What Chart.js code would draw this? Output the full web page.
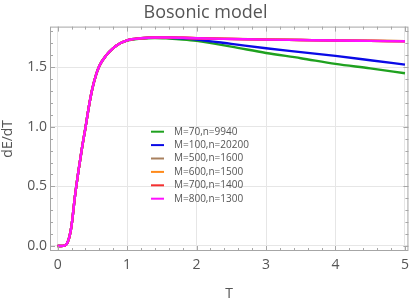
<!DOCTYPE html>
<html>
<head>
<meta charset="utf-8">
<script src="https://cdn.jsdelivr.net/npm/chart.js@4"></script>
<style>
  html, body { margin: 0; padding: 0; background: #fff; }
  #wrap { width: 415px; height: 302px; }
</style>
</head>
<body>
<div id="wrap"><canvas id="bosonChart"></canvas></div>
<script>
// teplota T
var temps = [0, 0.05, 0.1, 0.15, 0.2, 0.25, 0.3, 0.35, 0.4, 0.45, 0.5, 0.55, 0.6, 0.7, 0.8, 0.9, 1.0, 1.2, 1.4, 1.6, 1.8, 2.0, 2.5, 3.0, 3.5, 4.0, 4.5, 5.0];

// dE/dT pro jednotlive (M, n)
var m70 = [0, 0, 0.003, 0.04, 0.17, 0.42, 0.63, 0.82, 0.99, 1.17, 1.32, 1.43, 1.51, 1.60, 1.66, 1.70, 1.722, 1.740, 1.745, 1.740, 1.732, 1.720, 1.672, 1.619, 1.575, 1.527, 1.490, 1.449];
var m100 = [0, 0, 0.003, 0.04, 0.17, 0.42, 0.63, 0.82, 0.99, 1.17, 1.32, 1.43, 1.51, 1.60, 1.66, 1.70, 1.725, 1.742, 1.749, 1.747, 1.741, 1.731, 1.695, 1.658, 1.626, 1.594, 1.558, 1.521];
var m500 = [0, 0, 0.003, 0.04, 0.17, 0.42, 0.63, 0.82, 0.99, 1.17, 1.32, 1.43, 1.51, 1.60, 1.66, 1.70, 1.725, 1.742, 1.749, 1.749, 1.747, 1.743, 1.737, 1.732, 1.728, 1.724, 1.721, 1.718];
var m600 = [0, 0, 0.003, 0.04, 0.17, 0.42, 0.63, 0.82, 0.99, 1.17, 1.32, 1.43, 1.51, 1.60, 1.66, 1.70, 1.725, 1.742, 1.749, 1.749, 1.747, 1.743, 1.737, 1.732, 1.728, 1.724, 1.721, 1.718];
var m700 = [0, 0, 0.003, 0.04, 0.17, 0.42, 0.63, 0.82, 0.99, 1.17, 1.32, 1.43, 1.51, 1.60, 1.66, 1.70, 1.725, 1.742, 1.749, 1.749, 1.746, 1.742, 1.736, 1.731, 1.727, 1.723, 1.720, 1.717];
var m800 = [0, 0, 0.003, 0.04, 0.17, 0.42, 0.63, 0.82, 0.99, 1.17, 1.32, 1.43, 1.51, 1.60, 1.66, 1.70, 1.725, 1.742, 1.749, 1.749, 1.746, 1.742, 1.736, 1.731, 1.727, 1.723, 1.720, 1.717];

var seriesNames = ['M=70,n=9940', 'M=100,n=20200', 'M=500,n=1600', 'M=600,n=1500', 'M=700,n=1400', 'M=800,n=1300'];
var seriesValues = [m70, m100, m500, m600, m700, m800];
var seriesColors = ['#1fa11f', '#0a0ae6', '#a8805e', '#ff8a1a', '#f53030', '#ff10ff'];

var xTicks = [0, 1, 2, 3, 4, 5];
var yTicks = [0, 0.5, 1.0, 1.5];

var fontName = '"Open Sans", sans-serif';

function toPoints(vals) {
    return temps.map(function (t, i) { return { x: t, y: vals[i] }; });
}

var datasets = seriesNames.map(function (name, i) {
    return {
        label: name,
        data: toPoints(seriesValues[i]),
        borderColor: seriesColors[i],
        backgroundColor: seriesColors[i],
        borderWidth: 2.4,
        pointRadius: 0,
        cubicInterpolationMode: 'monotone',
        fill: false,
        order: seriesNames.length - i // posledni (M=800) navrchu
    };
});

// ramecek, male ticky dovnitr a legenda v grafu
var framePlugin = {
    id: 'frame',
    afterDraw: function (chart) {
        var c = chart.ctx, a = chart.chartArea;
        var xs = chart.scales.x, ys = chart.scales.y;
        c.save();
        c.strokeStyle = '#a6a6a6';
        c.lineWidth = 1;
        c.strokeRect(a.left + 0.5, a.top + 0.5, a.right - a.left - 1, a.bottom - a.top - 1);
        c.beginPath();
        for (var i = 0; i <= 25; i++) {
            var v = i * 0.2;
            var px = Math.round(xs.getPixelForValue(v)) + 0.5;
            var len = (i % 5 === 0) ? 5 : 3;
            c.moveTo(px, a.bottom); c.lineTo(px, a.bottom - len);
            c.moveTo(px, a.top); c.lineTo(px, a.top + len);
        }
        for (var j = 0; j <= 18; j++) {
            var w = j * 0.1;
            var py = Math.round(ys.getPixelForValue(w)) + 0.5;
            var ln = (j % 5 === 0) ? 5 : 3;
            c.moveTo(a.left, py); c.lineTo(a.left + ln, py);
            c.moveTo(a.right, py); c.lineTo(a.right - ln, py);
        }
        c.stroke();

        // legenda
        c.font = '10px ' + fontName;
        c.textBaseline = 'middle';
        c.textAlign = 'left';
        chart.data.datasets.forEach(function (ds, k) {
            var y = 131.7 + k * 13.4;
            c.strokeStyle = ds.borderColor;
            c.lineWidth = 2;
            c.beginPath();
            c.moveTo(151, y); c.lineTo(164, y);
            c.stroke();
            c.fillStyle = '#555';
            c.fillText(ds.label, 174, y);
        });
        c.restore();
    }
};

var ctx = document.getElementById('bosonChart');

new Chart(ctx, {
    type: 'line',
    data: { datasets: datasets },
    options: {
        responsive: true,
        maintainAspectRatio: false,
        animation: false,
        layout: { padding: { left: 0, right: 4, top: 0, bottom: 0 } },
        scales: {
            x: {
                type: 'linear',
                min: -0.11,
                max: 5.05,
                afterBuildTicks: function (s) { s.ticks = xTicks.map(function (v) { return { value: v }; }); },
                afterFit: function (s) { s.height = 51; },
                grid: { color: '#e6e6e6', drawTicks: false, lineWidth: 1 },
                border: { display: false },
                ticks: { color: '#555', font: { size: 14, family: fontName }, padding: 6, maxRotation: 0 },
                title: { display: true, text: 'T', color: '#555', font: { size: 14, family: fontName }, padding: { top: 4, bottom: 0 } }
            },
            y: {
                type: 'linear',
                min: -0.042,
                max: 1.84,
                afterBuildTicks: function (s) { s.ticks = yTicks.map(function (v) { return { value: v }; }); },
                afterFit: function (s) { s.width = 50; },
                grid: { color: '#e6e6e6', drawTicks: false, lineWidth: 1 },
                border: { display: false },
                ticks: {
                    color: '#555',
                    font: { size: 14, family: fontName },
                    padding: 3,
                    callback: function (v) { return Number(v).toFixed(1); }
                },
                title: { display: true, text: 'dE/dT', color: '#555', font: { size: 14, family: fontName }, padding: { top: 0, bottom: 2 } }
            }
        },
        plugins: {
            legend: { display: false },
            tooltip: { enabled: false },
            title: {
                display: true,
                text: 'Bosonic model',
                color: '#555',
                font: { size: 18, weight: 'normal', family: fontName },
                padding: { top: 2, bottom: 3 }
            }
        }
    },
    plugins: [framePlugin]
});
</script>
</body>
</html>
